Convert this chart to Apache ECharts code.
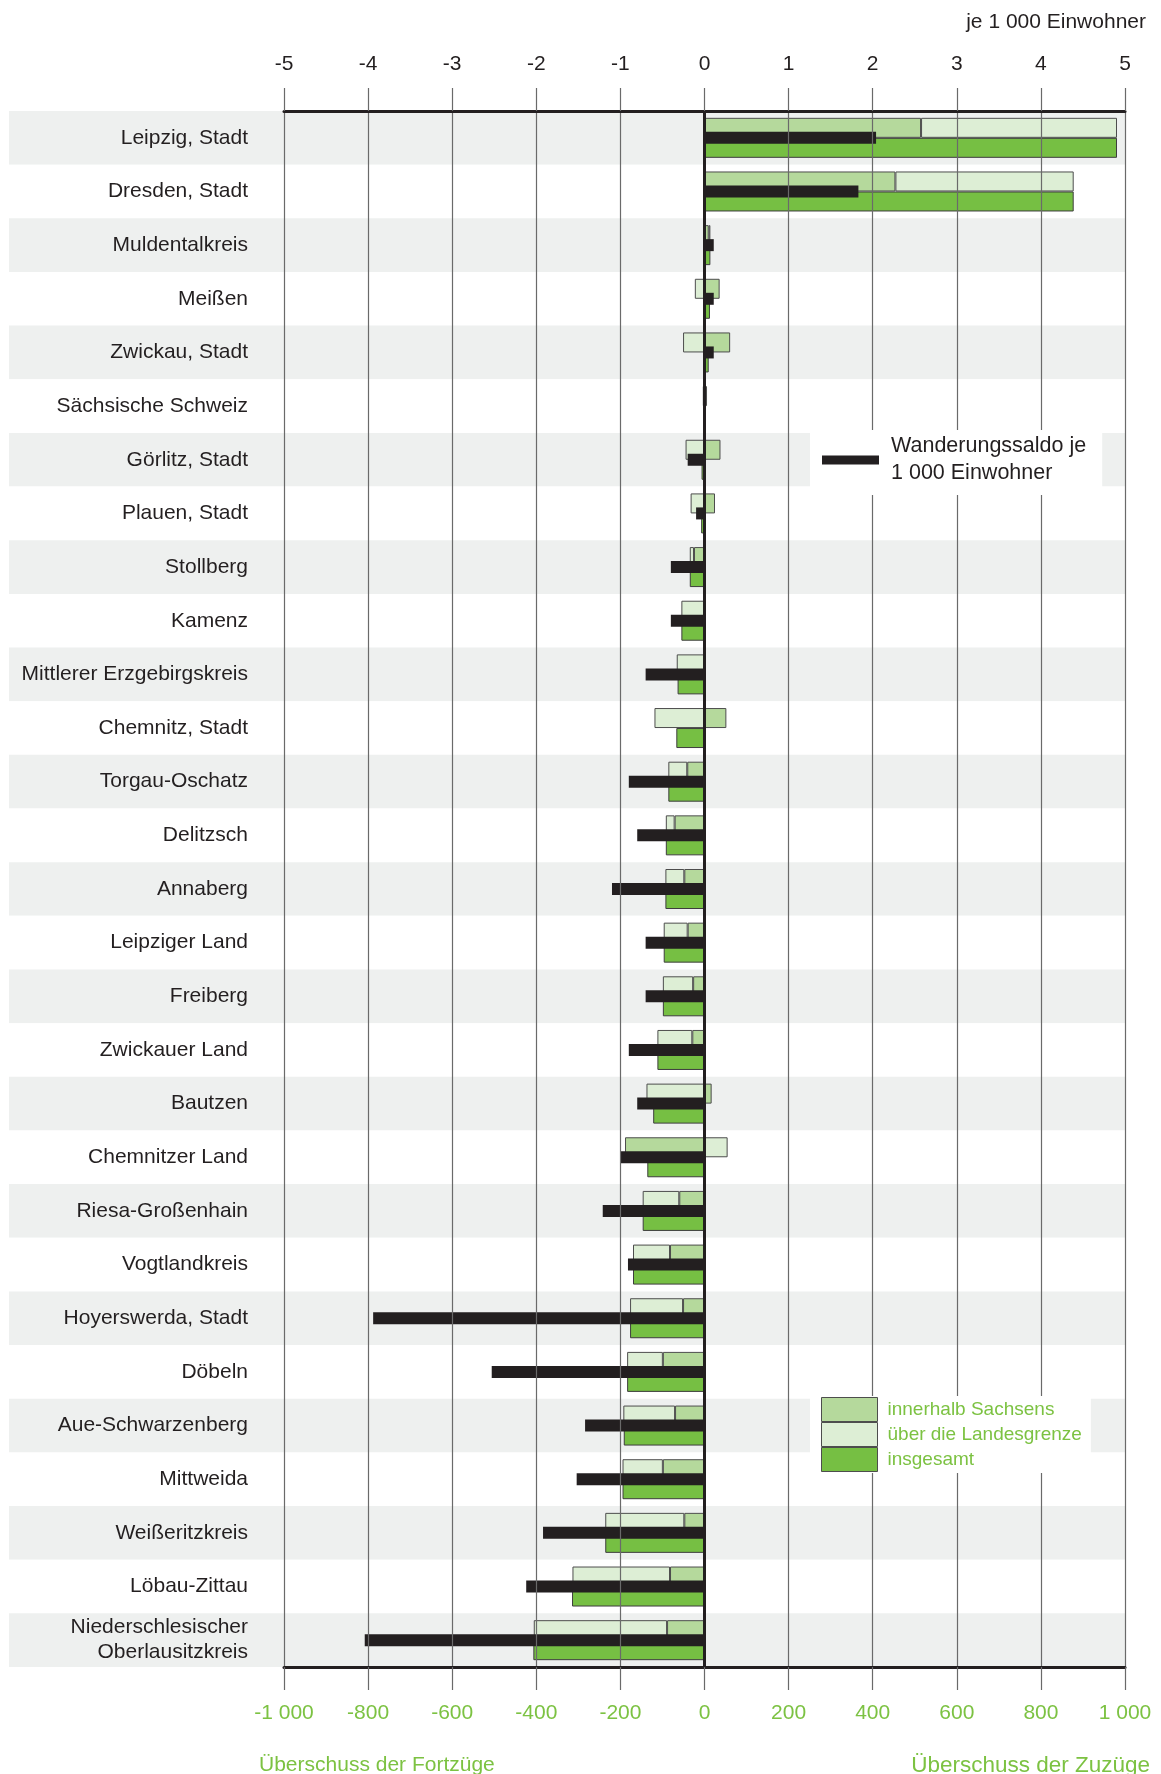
<!DOCTYPE html>
<html>
<head>
<meta charset="utf-8">
<script src="https://cdn.jsdelivr.net/npm/echarts@6/dist/echarts.min.js"></script>
<style>
html,body{margin:0;padding:0;background:#fff;}
#chart{width:1161px;height:1774px;}
</style>
</head>
<body>
<div id="chart"></div>
<script>
// ---- data ----
var categories = [
  'Leipzig, Stadt','Dresden, Stadt','Muldentalkreis','Meißen','Zwickau, Stadt',
  'Sächsische Schweiz','Görlitz, Stadt','Plauen, Stadt','Stollberg','Kamenz',
  'Mittlerer Erzgebirgskreis','Chemnitz, Stadt','Torgau-Oschatz','Delitzsch','Annaberg',
  'Leipziger Land','Freiberg','Zwickauer Land','Bautzen','Chemnitzer Land',
  'Riesa-Großenhain','Vogtlandkreis','Hoyerswerda, Stadt','Döbeln','Aue-Schwarzenberg',
  'Mittweida','Weißeritzkreis','Löbau-Zittau','Niederschlesischer\nOberlausitzkreis'
];
// persons (bottom axis)
var innerhalbSachsens = [515,454,10,36,61,6,38,25,-25,-1,2,52,-41,-71,-48,-40,-27,-29,17,-189,-60,-82,-51,-99,-70,-99,-48,-82,-89];
var ueberLandesgrenze = [466,424,4,-23,-51,-4,-45,-33,-10,-54,-66,-119,-45,-21,-45,-57,-72,-83,-138,55,-87,-88,-126,-85,-123,-96,-188,-232,-317];
var insgesamt =        [981,878,14,13,10,2,-7,-8,-35,-55,-64,-67,-86,-92,-93,-97,-99,-112,-122,-136,-147,-170,-177,-184,-192,-195,-236,-315,-407];
// per 1 000 inhabitants (top axis)
var saldoJe1000 = [2.04,1.83,0.11,0.11,0.11,0,-0.20,-0.10,-0.40,-0.40,-0.70,0,-0.90,-0.80,-1.10,-0.70,-0.70,-0.90,-0.80,-1.00,-1.21,-0.91,-3.94,-2.53,-1.42,-1.52,-1.92,-2.12,-4.04];

var seriesNames = ['innerhalb Sachsens','über die Landesgrenze','insgesamt','Wanderungssaldo je 1 000 Einwohner'];
var bottomTickLabels = ['-1 000','-800','-600','-400','-200','0','200','400','600','800','1 000'];
var topTickLabels = ['-5','-4','-3','-2','-1','0','1','2','3','4','5'];

// ---- chart ----
var FONT = "'Liberation Sans', Arial, Helvetica, sans-serif";
var DARK = '#231f20';
var GREEN_TXT = '#7cc242';
var GRIDLINE = '#6a6a6a';
var chart = echarts.init(document.getElementById('chart'), null, {renderer:'canvas'});

var option = {
  animation: false,
  backgroundColor: '#ffffff',
  textStyle: {fontFamily: FONT},
  title: [
    {text: 'je 1 000 Einwohner', right: 10, top: 7, textStyle: {fontFamily: FONT, fontSize: 21, fontWeight: 'normal', color: DARK}},
    {text: 'Überschuss der Fortzüge', left: 254, top: 1750, textStyle: {fontFamily: FONT, fontSize: 21, fontWeight: 'normal', color: GREEN_TXT}},
    {text: 'Überschuss der Zuzüge', right: 6, top: 1749, textStyle: {fontFamily: FONT, fontSize: 22.5, fontWeight: 'normal', color: GREEN_TXT}}
  ],
  grid: [
    {left: 284, right: 36, top: 111, bottom: 107},
    {left: 9, right: 36, top: 111, bottom: 107}
  ],
  legend: [
    {
      data: [seriesNames[3]],
      orient: 'vertical',
      left: 810, top: 430,
      padding: [3, 16, 8, 12],
      backgroundColor: '#ffffff',
      itemWidth: 57, itemHeight: 9,
      icon: 'rect',
      selectedMode: false,
      itemStyle: {color: DARK, borderWidth: 0},
      formatter: function () { return 'Wanderungssaldo je\n1 000 Einwohner'; },
      textStyle: {fontFamily: FONT, fontSize: 21.5, color: DARK, lineHeight: 27, padding: [0, 0, 0, 7]}
    },
    {
      data: seriesNames.slice(0, 3),
      orient: 'vertical',
      left: 810, top: 1396,
      padding: [1, 9, 1, 11],
      backgroundColor: '#ffffff',
      itemWidth: 56, itemHeight: 24,
      itemGap: 0,
      icon: 'rect',
      selectedMode: false,
      itemStyle: {borderColor: '#4d4d4d', borderWidth: 1},
      textStyle: {fontFamily: FONT, fontSize: 19, color: GREEN_TXT, padding: [0, 0, 0, 5]}
    }
  ],
  xAxis: [
    {
      gridIndex: 0, type: 'value', position: 'bottom',
      min: -1000, max: 1000, interval: 200, z: 3,
      axisLine: {show: true, onZero: false, lineStyle: {color: DARK, width: 3}},
      axisTick: {show: true, length: 23, lineStyle: {color: GRIDLINE, width: 1.2}},
      axisLabel: {margin: 36, fontFamily: FONT, fontSize: 21, color: GREEN_TXT,
        formatter: function (v) { return bottomTickLabels[Math.round((v + 1000) / 200)]; }},
      splitLine: {show: true, lineStyle: {color: GRIDLINE, width: 1.2}}
    },
    {
      gridIndex: 0, type: 'value', position: 'top',
      min: -5, max: 5, interval: 1, z: 3,
      axisLine: {show: true, onZero: false, lineStyle: {color: DARK, width: 3}},
      axisTick: {show: true, length: 23, lineStyle: {color: GRIDLINE, width: 1.2}},
      axisLabel: {margin: 36, fontFamily: FONT, fontSize: 21, color: DARK,
        formatter: function (v) { return topTickLabels[Math.round(v + 5)]; }},
      splitLine: {show: false}
    },
    {gridIndex: 1, type: 'value', min: 0, max: 1, show: false}
  ],
  yAxis: [
    {
      gridIndex: 0, type: 'category', data: categories, inverse: true, z: 3,
      axisLine: {show: false}, axisTick: {show: false}, splitLine: {show: false},
      axisLabel: {margin: 36, fontFamily: FONT, fontSize: 21, color: DARK, lineHeight: 25, align: 'right'}
    },
    {gridIndex: 0, type: 'category', data: categories, inverse: true, show: false},
    {
      gridIndex: 1, type: 'category', data: categories, inverse: true, z: 0,
      axisLine: {show: false}, axisTick: {show: false}, axisLabel: {show: false}, splitLine: {show: false},
      splitArea: {show: true, areaStyle: {color: ['#eef0ef', '#ffffff']}}
    }
  ],
  series: [
    {
      name: seriesNames[0], type: 'bar', xAxisIndex: 0, yAxisIndex: 0, stack: 'teil',
      data: innerhalbSachsens, barWidth: 20, barGap: '0%',
      itemStyle: {color: '#b5d99c', borderColor: '#4d4d4d', borderWidth: 1}
    },
    {
      name: seriesNames[1], type: 'bar', xAxisIndex: 0, yAxisIndex: 0, stack: 'teil',
      data: ueberLandesgrenze, barWidth: 20, barGap: '0%',
      itemStyle: {color: '#ddeed5', borderColor: '#4d4d4d', borderWidth: 1}
    },
    {
      name: seriesNames[2], type: 'bar', xAxisIndex: 0, yAxisIndex: 0,
      data: insgesamt, barWidth: 20, barGap: '0%',
      itemStyle: {color: '#76bf43', borderColor: '#3d3d3d', borderWidth: 1},
      markLine: {
        silent: true, symbol: ['none', 'none'],
        label: {show: false},
        lineStyle: {color: DARK, width: 3, type: 'solid'},
        data: [{xAxis: 0}]
      }
    },
    {
      name: seriesNames[3], type: 'bar', xAxisIndex: 1, yAxisIndex: 1,
      data: saldoJe1000, barWidth: 12,
      itemStyle: {color: DARK}
    }
  ]
};
chart.setOption(option);
</script>
</body>
</html>
